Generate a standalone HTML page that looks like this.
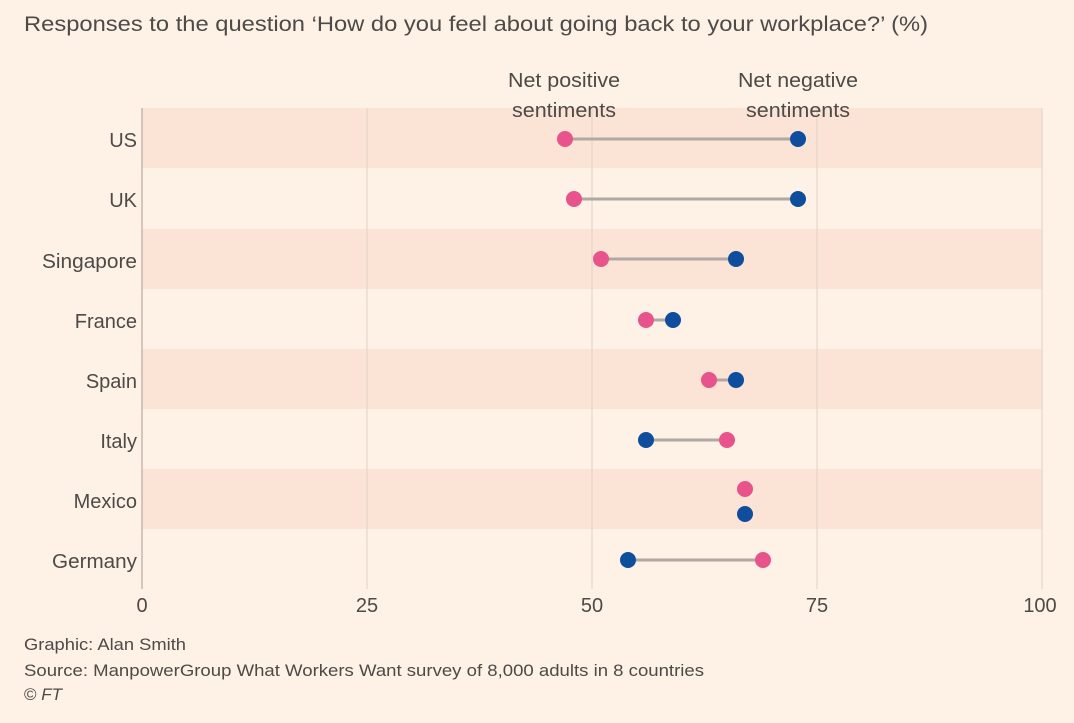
<!DOCTYPE html>
<html><head><style>
body{margin:0;background:#fef1e6;width:1074px;height:718px;overflow:hidden;font-family:"Liberation Sans",sans-serif;color:#4d4a47}
</style></head><body>
<svg width="1074" height="718" xmlns="http://www.w3.org/2000/svg" font-family="Liberation Sans, sans-serif">
<rect width="1074" height="718" fill="#fef1e6"/>
<text x="24" y="31" font-size="21" fill="#4d4a47" textLength="904" lengthAdjust="spacingAndGlyphs">Responses to the question ‘How do you feel about going back to your workplace?’ (%)</text>
<g fill="#fbe3d6">
<rect x="142" y="108" width="900" height="60"/>
<rect x="142" y="229" width="900" height="60"/>
<rect x="142" y="349" width="900" height="60"/>
<rect x="142" y="469" width="900" height="60"/>
</g>
<g stroke="#e6d6cb" stroke-width="1.2">
<line x1="367" y1="108" x2="367" y2="589"/>
<line x1="592" y1="108" x2="592" y2="589"/>
<line x1="817" y1="108" x2="817" y2="589"/>
<line x1="1042" y1="108" x2="1042" y2="589"/>
</g>
<line x1="142" y1="108" x2="142" y2="589" stroke="#b8aaa0" stroke-width="1.2"/>
<g font-size="20" fill="#4d4a47" text-anchor="middle">
<text x="564" y="87" textLength="112" lengthAdjust="spacingAndGlyphs">Net positive</text><text x="564" y="117" textLength="104" lengthAdjust="spacingAndGlyphs">sentiments</text>
<text x="798" y="87" textLength="120" lengthAdjust="spacingAndGlyphs">Net negative</text><text x="798" y="117" textLength="104" lengthAdjust="spacingAndGlyphs">sentiments</text>
</g>
<g font-size="20" fill="#4d4a47" text-anchor="end">
<text x="137" y="147">US</text><text x="137" y="207">UK</text><text x="137" y="268" textLength="95" lengthAdjust="spacingAndGlyphs">Singapore</text><text x="137" y="328">France</text>
<text x="137" y="388">Spain</text><text x="137" y="448">Italy</text><text x="137" y="508">Mexico</text><text x="137" y="568" textLength="85" lengthAdjust="spacingAndGlyphs">Germany</text>
</g>
<g font-size="20" fill="#4d4a47" text-anchor="middle">
<text x="142" y="612">0</text><text x="367" y="612">25</text><text x="592" y="612">50</text><text x="817" y="612">75</text><text x="1040" y="612">100</text>
</g>
<g stroke="#b0a8a3" stroke-width="3">
<line x1="565" y1="139" x2="798" y2="139"/>
<line x1="574" y1="199" x2="798" y2="199"/>
<line x1="601" y1="259" x2="736" y2="259"/>
<line x1="646" y1="320" x2="673" y2="320"/>
<line x1="709" y1="380" x2="736" y2="380"/>
<line x1="646" y1="440" x2="727" y2="440"/>
<line x1="628" y1="560" x2="763" y2="560"/>
</g>
<g fill="#e8538b">
<circle cx="565" cy="139" r="8"/><circle cx="574" cy="199" r="8"/><circle cx="601" cy="259" r="8"/><circle cx="646" cy="320" r="8"/>
<circle cx="709" cy="380" r="8"/><circle cx="727" cy="440" r="8"/><circle cx="745" cy="489" r="8"/><circle cx="763" cy="560" r="8"/>
</g>
<g fill="#0f4e9c">
<circle cx="798" cy="139" r="8"/><circle cx="798" cy="199" r="8"/><circle cx="736" cy="259" r="8"/><circle cx="673" cy="320" r="8"/>
<circle cx="736" cy="380" r="8"/><circle cx="646" cy="440" r="8"/><circle cx="745" cy="514" r="8"/><circle cx="628" cy="560" r="8"/>
</g>
<g font-size="17" fill="#4d4a47">
<text x="24" y="650" textLength="162" lengthAdjust="spacingAndGlyphs">Graphic: Alan Smith</text>
<text x="24" y="676" textLength="680" lengthAdjust="spacingAndGlyphs">Source: ManpowerGroup What Workers Want survey of 8,000 adults in 8 countries</text>
<text x="24" y="700">© <tspan font-style="italic">FT</tspan></text>
</g>
</svg>
</body></html>
